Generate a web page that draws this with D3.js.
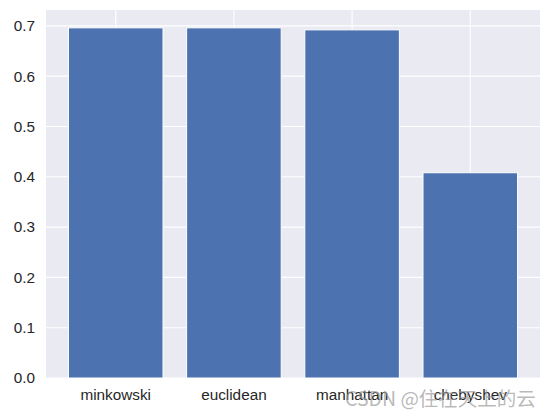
<!DOCTYPE html>
<html>
<head>
<meta charset="utf-8">
<script src="https://cdn.jsdelivr.net/npm/d3@7"></script>
<style>
  html, body { margin: 0; padding: 0; background: #ffffff; }
  svg { display: block; }
</style>
</head>
<body>
<div id="chart"></div>
<script>
const categories = ["minkowski", "euclidean", "manhattan", "chebyshev"];
const values = [0.696, 0.696, 0.692, 0.408];
const yTicks = [0.0, 0.1, 0.2, 0.3, 0.4, 0.5, 0.6, 0.7];
const watermark = "CSDN @住在天上的云";

const W = 550, H = 416;
const margin = { left: 46, top: 10, right: 10, bottom: 38 };
const iw = W - margin.left - margin.right;
const ih = H - margin.top - margin.bottom;

const svg = d3.select("#chart").append("svg")
  .attr("width", W).attr("height", H);

const g = svg.append("g").attr("transform", `translate(${margin.left},${margin.top})`);

g.append("rect").attr("width", iw).attr("height", ih).attr("fill", "#EAEAF2");

const x = d3.scaleBand().domain(categories).range([0, iw])
  .paddingInner(0.2).paddingOuter(0.19);
const y = d3.scaleLinear().domain([0, d3.max(values) * 1.051]).range([ih, 0]);

// grid
g.append("g").selectAll("line.h").data(yTicks).join("line")
  .attr("x1", 0).attr("x2", iw)
  .attr("y1", d => y(d)).attr("y2", d => y(d))
  .attr("stroke", "#ffffff").attr("stroke-width", 1.1);
g.append("g").selectAll("line.v").data(categories).join("line")
  .attr("x1", d => x(d) + x.bandwidth() / 2).attr("x2", d => x(d) + x.bandwidth() / 2)
  .attr("y1", 0).attr("y2", ih)
  .attr("stroke", "#ffffff").attr("stroke-width", 1.1);

// bars
g.append("g").selectAll("rect").data(categories).join("rect")
  .attr("x", d => x(d))
  .attr("width", x.bandwidth())
  .attr("y", (d, i) => y(values[i]))
  .attr("height", (d, i) => ih - y(values[i]))
  .attr("fill", "#4C72B0")
  .attr("stroke", "#ffffff").attr("stroke-width", 1);

// axes
const font = "'Liberation Sans', Arial, sans-serif";
const yAxis = g.append("g").call(d3.axisLeft(y).tickValues(yTicks).tickFormat(d3.format(".1f")).tickSize(0).tickPadding(11));
yAxis.select(".domain").remove();
yAxis.selectAll("text").attr("font-family", font).attr("font-size", 15.3).attr("fill", "#262626");

const xAxis = g.append("g").attr("transform", `translate(0,${ih})`)
  .call(d3.axisBottom(x).tickSize(0).tickPadding(11));
xAxis.select(".domain").remove();
xAxis.selectAll("text").attr("font-family", font).attr("font-size", 15.3).attr("fill", "#262626");

// watermark
svg.append("text")
  .attr("x", 345).attr("y", 406)
  .attr("font-family", "'Noto Sans CJK SC', 'Liberation Sans', sans-serif")
  .attr("font-size", 19.5)
  .attr("fill", "#9a9a9a").attr("fill-opacity", 0.7)
  .text(watermark);
</script>
</body>
</html>
